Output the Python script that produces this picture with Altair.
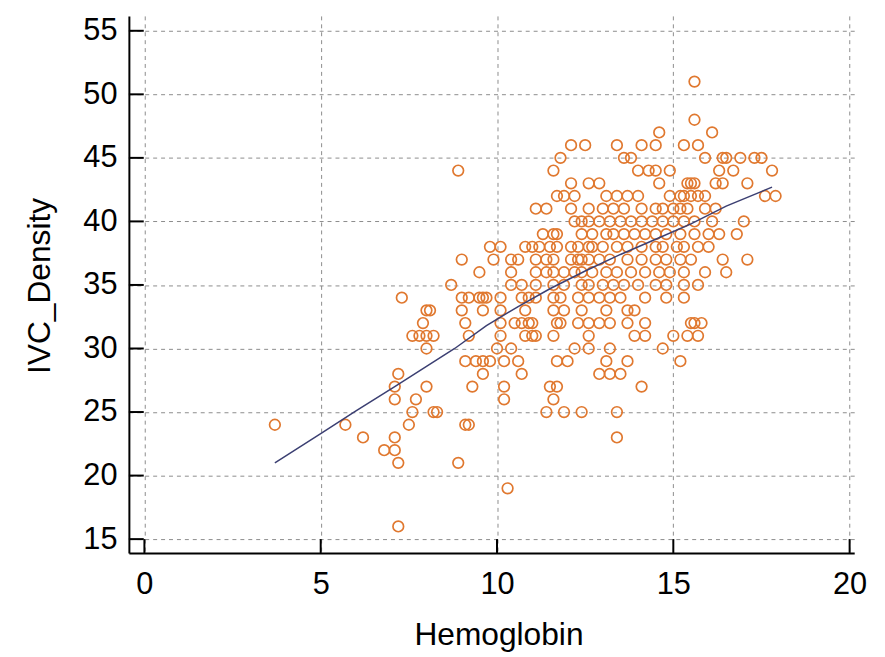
import altair as alt
import pandas as pd

# ---- scatter data: Hemoglobin values for each IVC_Density row ----
ivc_16 = [7.2]
ivc_19 = [10.3]
ivc_21 = [7.2, 8.9]
ivc_22 = [6.8, 7.1]
ivc_23 = [6.2, 7.1, 13.4]
ivc_24 = [3.7, 5.7, 7.5, 9.1, 9.2]
ivc_25 = [7.6, 8.2, 8.3, 11.4, 11.9, 12.4, 13.4]
ivc_26 = [7.1, 7.7, 10.2, 11.6]
ivc_27 = [7.1, 8.0, 9.3, 10.2, 11.5, 11.7, 14.1]
ivc_28 = [7.2, 9.6, 10.7, 12.9, 13.2, 13.5]
ivc_29 = [9.1, 9.4, 9.6, 9.8, 10.2, 10.6, 11.7, 12.0, 13.1, 13.7, 15.2]
ivc_30 = [8.0, 10.0, 10.4, 12.2, 12.6, 13.2, 14.7]
ivc_31 = [7.6, 7.8, 8.0, 8.2, 9.2, 10.1, 10.8, 11.0, 11.1, 11.6, 12.6, 13.9,
          14.2, 15.0, 15.4, 15.7]
ivc_32 = [7.9, 9.1, 10.1, 10.5, 10.7, 10.9, 11.0, 11.7, 11.8, 12.3, 12.6, 12.9,
          13.2, 13.7, 14.2, 15.5, 15.6, 15.8]
ivc_33 = [8.0, 8.1, 9.0, 9.6, 10.1, 10.8, 11.6, 11.9, 12.4, 13.1, 13.7, 13.9]
ivc_34 = [7.3, 9.0, 9.2, 9.5, 9.6, 9.7, 10.1, 10.7, 10.9, 11.1, 11.6, 11.8,
          12.3, 12.6, 12.9, 13.2, 13.5, 14.2, 14.8, 15.3]
ivc_35 = [8.7, 10.4, 10.7, 11.1, 11.6, 11.9, 12.4, 12.6, 13.0, 13.3, 13.6,
          14.0, 14.5, 14.8, 15.3, 15.7]
ivc_36 = [9.5, 10.4, 11.1, 11.4, 11.6, 11.9, 12.2, 12.4, 12.7, 13.1, 13.4,
          13.8, 14.2, 14.6, 14.9, 15.3, 15.9, 16.5]
ivc_37 = [9.0, 9.9, 10.4, 10.6, 11.1, 11.4, 11.6, 12.1, 12.3, 12.4, 12.6,
          12.9, 13.2, 13.7, 14.1, 14.5, 14.8, 15.2, 15.5, 16.4, 17.1]
ivc_38 = [9.8, 10.1, 10.8, 11.0, 11.2, 11.5, 11.7, 12.1, 12.3, 12.6, 12.7,
          13.0, 13.4, 13.7, 14.1, 14.5, 14.7, 15.1, 15.3, 15.7, 16.0]
ivc_39 = [11.3, 11.6, 11.7, 12.4, 12.7, 13.1, 13.3, 13.6, 13.9, 14.2, 14.5,
          14.8, 15.2, 15.6, 16.0, 16.3, 16.8]
ivc_40 = [12.2, 12.4, 12.6, 12.9, 13.2, 13.5, 13.8, 14.1, 14.4, 14.7, 15.0,
          15.3, 15.6, 16.1, 17.0]
ivc_41 = [11.1, 11.4, 12.1, 12.6, 13.0, 13.3, 13.6, 14.1, 14.5, 14.7, 15.0,
          15.2, 15.4, 15.9, 16.2]
ivc_42 = [11.7, 11.9, 12.2, 13.1, 13.4, 13.7, 14.0, 14.9, 15.2, 15.3, 15.5,
          15.7, 15.9, 17.6, 17.9]
ivc_43 = [12.1, 12.6, 12.9, 14.6, 15.4, 15.5, 15.6, 16.2, 16.4, 17.1]
ivc_44 = [8.9, 11.6, 14.0, 14.3, 14.5, 14.9, 16.3, 16.7, 17.8]
ivc_45 = [11.8, 13.6, 13.8, 15.9, 16.4, 16.5, 16.9, 17.3, 17.5]
ivc_46 = [12.1, 12.5, 13.4, 14.1, 14.5, 15.3, 15.7]
ivc_47 = [14.6, 16.1]
ivc_48 = [15.6]
ivc_51 = [15.6]

ivc_rows = [(16, ivc_16), (19, ivc_19), (21, ivc_21), (22, ivc_22), (23, ivc_23),
            (24, ivc_24), (25, ivc_25), (26, ivc_26), (27, ivc_27), (28, ivc_28),
            (29, ivc_29), (30, ivc_30), (31, ivc_31), (32, ivc_32), (33, ivc_33),
            (34, ivc_34), (35, ivc_35), (36, ivc_36), (37, ivc_37), (38, ivc_38),
            (39, ivc_39), (40, ivc_40), (41, ivc_41), (42, ivc_42), (43, ivc_43),
            (44, ivc_44), (45, ivc_45), (46, ivc_46), (47, ivc_47), (48, ivc_48),
            (51, ivc_51)]

# ---- smoothed fit line ----
fit_x = [3.7, 5.0, 6.0, 7.1, 8.0, 8.8, 9.7, 10.6, 11.5, 12.5, 13.5, 14.5, 15.5, 16.5, 17.8]
fit_y = [21.0, 23.3, 25.1, 27.0, 28.6, 30.0, 31.8, 33.3, 34.7, 36.1, 37.4, 38.6, 39.8, 41.2, 42.7]

x_ticks = [0, 5, 10, 15, 20]
y_ticks = [15, 20, 25, 30, 35, 40, 45, 50, 55]

pts = pd.DataFrame([(x, y) for y, xs_ in ivc_rows for x in xs_],
                   columns=["Hemoglobin", "IVC_Density"])
fit = pd.DataFrame({"Hemoglobin": fit_x, "IVC_Density": fit_y})
xt = pd.DataFrame({"Hemoglobin": x_ticks})
yt = pd.DataFrame({"IVC_Density": y_ticks})

W, H = 732, 542
FONT = "Liberation Sans"
xs = alt.Scale(domain=[-0.44, 20.13], nice=False, zero=False)
ys = alt.Scale(domain=[13.91, 56.17], nice=False, zero=False)

common_axis = dict(domainColor="black", domainWidth=2, ticks=False,
                   labelFont=FONT, labelFontSize=31, labelColor="black",
                   grid=True, gridColor="#8c8c8c", gridDash=[4, 4], gridWidth=1,
                   titleFont=FONT, titleFontSize=32, titleFontWeight="normal",
                   titleColor="black")

x_axis = alt.Axis(values=x_ticks, labelPadding=17, title="Hemoglobin",
                  titleX=373, titleY=92, titleBaseline="alphabetic",
                  titleAlign="center", **common_axis)
y_axis = alt.Axis(values=y_ticks, labelPadding=12, title="IVC_Density",
                  titleX=-80, titleY=272, titleAngle=-90,
                  titleBaseline="alphabetic", titleAlign="center",
                  **common_axis)

X = alt.X("Hemoglobin:Q", scale=xs, axis=x_axis)
Y = alt.Y("IVC_Density:Q", scale=ys, axis=y_axis)

points = alt.Chart(pts).mark_point(
    shape="circle", filled=False, size=115, strokeWidth=1.7,
    color="#E0782F", opacity=1
).encode(x=X, y=Y)

line = alt.Chart(fit).mark_line(color="#3b3f72", strokeWidth=1.5).encode(x=X, y=Y)

xticks = alt.Chart(xt).mark_rule(color="black", strokeWidth=2).encode(
    x=X, y=alt.value(H), y2=alt.value(H - 14),
)
yticks = alt.Chart(yt).mark_rule(color="black", strokeWidth=2).encode(
    y=Y, x=alt.value(0), x2=alt.value(15),
)

chart = alt.layer(points, line, xticks, yticks).properties(
    width=W, height=H,
    autosize=alt.AutoSizeParams(type="none"),
    padding={"left": 122, "top": 5, "right": 23, "bottom": 102},
    background="white",
).configure_view(stroke=None)

chart.save("out.html", embed_options={"renderer": "svg", "actions": False})
